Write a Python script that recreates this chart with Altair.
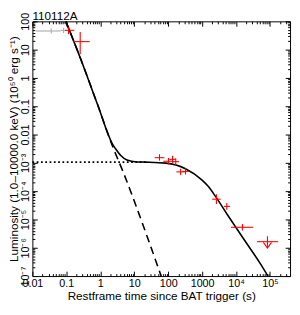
import altair as alt
import pandas as pd

FONT = "Liberation Sans"
TITLE = ["110112A"]

# ---- model curves ----
SOLID_T = [0.0968, 0.279, 0.841, 2.27, 2.82, 3.94, 6.12, 11.9, 21.5, 86.5, 324, 980, 1510, 2370, 5700, 17200, 51900, 87000]
SOLID_L = [100, 3.98, 0.110, 4.7e-3, 3.15e-3, 1.85e-3, 1.26e-3, 1.08e-3, 1.06e-3, 9.8e-4, 6.2e-4, 2.5e-4, 1.48e-4, 7.1e-5, 1.41e-5, 1.95e-6, 2.75e-7, 1.0e-7]
DASH_T = [0.0968, 0.279, 0.841, 2.27, 4.92, 23.0, 62.1]
DASH_L = [100, 3.98, 0.110, 4.0e-3, 4.2e-4, 2.9e-6, 1.0e-7]
DOT_T = [0.01, 21.5]
DOT_L = [1.07e-3, 1.06e-3]

# ---- XRT (red) points ----
RED_T = [0.116, 0.256, 55.5, 102, 135, 167, 233, 325, 2640, 5330, 15400]
RED_T_LO = [0.0927, 0.161, 39.9, 72, 108, 135, 175, 261, 1980, 4370, 7130]
RED_T_HI = [0.172, 0.49, 77.3, 137, 167, 208, 310, 404, 3520, 6680, 31800]
RED_L = [48.2, 19.2, 1.52e-3, 1.14e-3, 1.33e-3, 1.1e-3, 4.8e-4, 5.0e-4, 5.2e-5, 2.9e-5, 5.3e-6]
RED_L_LO = [35.2, 6.9, 1.2e-3, 8.8e-4, 9.8e-4, 8.3e-4, 3.7e-4, 3.9e-4, 3.5e-5, 2.2e-5, 4.1e-6]
RED_L_HI = [62.4, 42.2, 2.02e-3, 1.48e-3, 1.78e-3, 1.45e-3, 6.2e-4, 6.4e-4, 7.7e-5, 3.8e-5, 6.9e-6]

# ---- upper limit ----
UL_T = [84100]
UL_T_LO = [41500]
UL_T_HI = [174000]
UL_L = [1.64e-6]
UL_L_TOP = [2.57e-6]
UL_L_BOT = [1.05e-6]
UL_HEAD = [1.23e-6]

# ---- BAT (grey) points ----
GREY_T = [0.0359, 0.083]
GREY_T_LO = [0.0128, 0.0668]
GREY_T_HI = [0.0668, 0.103]
GREY_L = [45.6, 48.0]
GREY_L_LO = [37.4, 39.0]
GREY_L_HI = [55.6, 59.0]

# ---- axes ----
X_MIN, X_MAX = 0.01, 3.9e5
Y_MIN, Y_MAX = 1e-7, 100
X_TICKS = [0.01, 0.1, 1, 10, 100, 1000, 1e4, 1e5]
X_TICK_LABELS = ["0.01", "0.1", "1", "10", "100", "1000", "10⁴", "10⁵"]
Y_TICKS = [1e-7, 1e-6, 1e-5, 1e-4, 1e-3, 0.01, 0.1, 1, 10, 100]
Y_TICK_LABELS = ["10⁻⁷", "10⁻⁶", "10⁻⁵", "10⁻⁴", "10⁻³", "0.01", "0.1", "1", "10", "100"]

X_MINOR = [m * 10.0 ** e for e in range(-2, 6) for m in range(2, 10) if m * 10.0 ** e <= X_MAX]
Y_MINOR = [m * 10.0 ** e for e in range(-7, 2) for m in range(2, 10)]

W = 264
H = 261

curve = pd.DataFrame({"t": SOLID_T, "L": SOLID_L})
dash = pd.DataFrame({"t": DASH_T, "L": DASH_L})
dot = pd.DataFrame({"t": DOT_T, "L": DOT_L})
red = pd.DataFrame({"t": RED_T, "tlo": RED_T_LO, "thi": RED_T_HI,
                    "L": RED_L, "Llo": RED_L_LO, "Lhi": RED_L_HI})
grey = pd.DataFrame({"t": GREY_T, "tlo": GREY_T_LO, "thi": GREY_T_HI,
                     "L": GREY_L, "Llo": GREY_L_LO, "Lhi": GREY_L_HI})
ul = pd.DataFrame({"t": UL_T, "tlo": UL_T_LO, "thi": UL_T_HI, "L": UL_L,
                   "Ltop": UL_L_TOP, "Lbot": UL_L_BOT, "Lhead": UL_HEAD})
title_df = pd.DataFrame({"label": TITLE})

xs = alt.Scale(type="log", domain=[X_MIN, X_MAX], nice=False)
ys = alt.Scale(type="log", domain=[Y_MIN, Y_MAX], nice=False)


def label_expr(labels, min_exp):
    arr = "[" + ",".join("'" + s + "'" for s in labels) + "]"
    return arr + "[round(log(datum.value)/LN10) - (" + str(min_exp) + ")]"


x_label_axis = alt.Axis(
    orient="bottom", values=X_TICKS, labelExpr=label_expr(X_TICK_LABELS, -2),
    ticks=False, tickSize=0, domain=False, grid=False,
    labelFont=FONT, labelFontSize=11, labelColor="black", labelPadding=10.5,
    labelBaseline="alphabetic", labelAlign="center", labelFlush=False, labelOverlap=False,
    title="Restframe time since BAT trigger (s)", titleFont=FONT, titleFontSize=12,
    titleFontWeight="normal", titleColor="black", titleBaseline="alphabetic",
    titleAlign="center", titleX=W / 2, titleY=24,
)
y_label_axis = alt.Axis(
    orient="left", values=Y_TICKS, labelExpr=label_expr(Y_TICK_LABELS, -7),
    ticks=False, tickSize=0, domain=False, grid=False,
    labelFont=FONT, labelFontSize=11, labelColor="black", labelPadding=4,
    labelAngle=270, labelBaseline="alphabetic", labelAlign="center",
    labelFlush=False, labelOverlap=False,
    title="Luminosity (1.0–10000.0 keV) (10⁵⁰ erg s⁻¹)", titleFont=FONT, titleFontSize=12,
    titleFontWeight="normal", titleColor="black", titleAngle=270,
    titleBaseline="alphabetic", titleAlign="center", titleX=-15, titleY=H / 2,
)


def tick_axis(orient, values, size):
    return alt.Axis(orient=orient, values=values, labels=False, domain=False, grid=False,
                    ticks=True, tickSize=size, offset=-size, tickColor="black",
                    tickWidth=1, title=None)


def enc_xy(xf, yf, xa, ya):
    return dict(x=alt.X(xf, type="quantitative", scale=xs, axis=xa),
                y=alt.Y(yf, type="quantitative", scale=ys, axis=ya))


solid_layer = alt.Chart(curve).mark_line(color="black", strokeWidth=1.6, interpolate="monotone").encode(
    **enc_xy("t", "L", x_label_axis, y_label_axis))
dash_layer = alt.Chart(dash).mark_line(color="black", strokeWidth=1.6, strokeDash=[8, 5],
                                       interpolate="monotone").encode(
    **enc_xy("t", "L", tick_axis("bottom", X_TICKS, 5), tick_axis("left", Y_TICKS, 5)))
dot_layer = alt.Chart(dot).mark_line(color="black", strokeWidth=1.8, strokeDash=[1.8, 2.6]).encode(
    **enc_xy("t", "L", tick_axis("bottom", X_MINOR, 2.5), tick_axis("left", Y_MINOR, 2.5)))

grey_h = alt.Chart(grey).mark_rule(color="#b0b0b0", strokeWidth=1.2).encode(
    **enc_xy("tlo", "L", tick_axis("top", X_TICKS, 5), tick_axis("right", Y_TICKS, 5)),
    x2="thi")
grey_v = alt.Chart(grey).mark_rule(color="#b0b0b0", strokeWidth=1.2).encode(
    **enc_xy("t", "Llo", tick_axis("top", X_MINOR, 2.5), tick_axis("right", Y_MINOR, 2.5)),
    y2="Lhi")

red_h = alt.Chart(red).mark_rule(color="#ff0000", strokeWidth=1.1).encode(
    **enc_xy("tlo", "L", None, None), x2="thi")
red_v = alt.Chart(red).mark_rule(color="#ff0000", strokeWidth=1.1).encode(
    **enc_xy("t", "Llo", None, None), y2="Lhi")

ul_h = alt.Chart(ul).mark_rule(color="#ff0000", strokeWidth=1.1).encode(
    **enc_xy("tlo", "L", None, None), x2="thi")
ul_v = alt.Chart(ul).mark_rule(color="#ff0000", strokeWidth=1.1).encode(
    **enc_xy("t", "Ltop", None, None), y2="Lbot")
ul_head = alt.Chart(ul).mark_point(shape="M-1,-0.69L0,0.69L1,-0.69", size=69, color="#ff0000",
                                   filled=False, strokeWidth=1.1, opacity=1).encode(
    **enc_xy("t", "Lhead", None, None))

title_layer = alt.Chart(title_df).mark_text(
    align="left", baseline="alphabetic", font=FONT, fontSize=12, color="black"
).encode(text="label:N", x=alt.value(0), y=alt.value(-1.5))

chart = alt.layer(
    solid_layer, dash_layer, dot_layer, grey_h, grey_v, red_h, red_v, ul_h, ul_v, ul_head,
    title_layer
).resolve_axis(x="independent", y="independent").properties(
    width=W, height=H,
    autosize=alt.AutoSizeParams(type="none"),
    padding={"left": 25, "top": 10, "right": 2, "bottom": 27},
    background="white",
).configure_view(stroke="black", strokeWidth=1)

chart.save("out.html", embed_options={"renderer": "svg", "actions": False})
